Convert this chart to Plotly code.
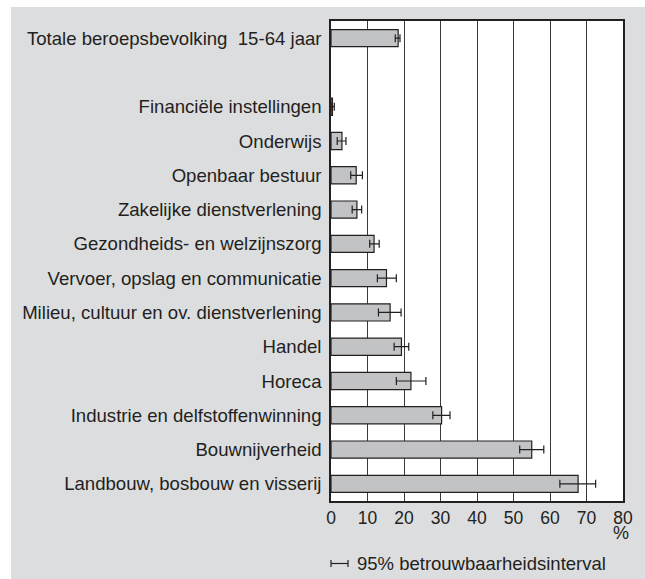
import plotly.graph_objects as go

# Data (top to bottom as in the chart)
categories = [
    "Totale beroepsbevolking\u00a0 15-64 jaar",
    "Financiële instellingen",
    "Onderwijs",
    "Openbaar bestuur",
    "Zakelijke dienstverlening",
    "Gezondheids- en welzijnszorg",
    "Vervoer, opslag en communicatie",
    "Milieu, cultuur en ov. dienstverlening",
    "Handel",
    "Horeca",
    "Industrie en delfstoffenwinning",
    "Bouwnijverheid",
    "Landbouw, bosbouw en visserij",
]
values = [18.4, 0.4, 3.0, 6.9, 7.1, 11.8, 15.2, 16.2, 19.3, 21.9, 30.3, 55.0, 67.7]
ci_low = [17.6, 0.0, 1.7, 5.4, 5.8, 10.6, 12.7, 13.0, 17.3, 17.9, 27.9, 51.7, 62.7]
ci_high = [18.9, 0.9, 4.1, 8.6, 8.4, 13.2, 17.9, 19.2, 21.3, 26.0, 32.6, 58.3, 72.5]
spacer = "\u2007"
x_ticks = [0, 10, 20, 30, 40, 50, 60, 70, 80]
unit_label = "%"
legend_label = "95% betrouwbaarheidsinterval"

# category order bottom -> top, with an empty slot under the total
cat_order = list(reversed(categories[1:])) + [spacer, categories[0]]

err_plus = [h - v for h, v in zip(ci_high, values)]
err_minus = [v - l for v, l in zip(values, ci_low)]

FONT = "Liberation Sans, Arial, Helvetica, sans-serif"
TXT = "#231f20"
GREY = "#dcdddf"

fig = go.Figure()
fig.add_trace(go.Bar(
    x=values, y=categories, orientation="h", width=0.5,
    marker=dict(color="#c2c3c5", line=dict(color=TXT, width=1.2)),
    error_x=dict(type="data", symmetric=False, array=err_plus, arrayminus=err_minus,
                 color=TXT, thickness=1.2, width=4),
    showlegend=False, hoverinfo="x+y",
))

L, R, T, B = 331, 22, 21, 78
W, H = 645, 579
pw, ph = W - L - R, H - T - B

def px(xpix):
    return (xpix - L) / pw

def py(ypix):
    return (H - B - ypix) / ph

shapes = [
    # grey panel on the right of the plot (safety) and white outer margin top/left
    dict(type="rect", xref="paper", yref="paper", x0=px(625), x1=px(700), y0=py(650), y1=py(7),
         fillcolor=GREY, line=dict(width=0), layer="below"),
    dict(type="rect", xref="paper", yref="paper", x0=px(-20), x1=px(700), y0=py(7), y1=py(-20),
         fillcolor="white", line=dict(width=0), layer="below"),
    dict(type="rect", xref="paper", yref="paper", x0=px(-20), x1=px(11), y0=py(650), y1=py(-20),
         fillcolor="white", line=dict(width=0), layer="below"),
    # legend error-bar glyph
    dict(type="line", xref="paper", yref="paper", x0=px(331), x1=px(348), y0=py(563.5), y1=py(563.5),
         line=dict(color=TXT, width=1.2)),
    dict(type="line", xref="paper", yref="paper", x0=px(331), x1=px(331), y0=py(560), y1=py(567),
         line=dict(color=TXT, width=1.2)),
    dict(type="line", xref="paper", yref="paper", x0=px(348), x1=px(348), y0=py(560), y1=py(567),
         line=dict(color=TXT, width=1.2)),
]

annotations = [
    dict(text=unit_label, xref="paper", yref="paper", x=px(631), y=py(533), xanchor="right",
         yanchor="middle", showarrow=False, font=dict(family=FONT, size=18, color=TXT)),
    dict(text=legend_label, xref="paper", yref="paper", x=px(355), y=py(563), xanchor="left",
         yanchor="middle", showarrow=False, font=dict(family=FONT, size=18.5, color=TXT)),
]

fig.update_layout(
    width=W, height=H,
    margin=dict(l=L, r=R, t=T, b=B, pad=0),
    paper_bgcolor=GREY, plot_bgcolor="white",
    font=dict(family=FONT, size=18, color=TXT),
    shapes=shapes, annotations=annotations,
    bargap=0.5,
)
fig.update_xaxes(
    range=[0, 80], tickvals=x_ticks, ticktext=[str(t) for t in x_ticks],
    showgrid=True, gridcolor="#3a3a3a", gridwidth=1,
    showline=True, mirror=True, linecolor=TXT, linewidth=1.5,
    ticks="", tickfont=dict(family=FONT, size=17.5, color=TXT), zeroline=False,
    fixedrange=True,
)
fig.update_yaxes(
    type="category", categoryorder="array", categoryarray=cat_order,
    range=[-0.5, len(cat_order) - 0.5],
    showgrid=False, showline=True, mirror=True, linecolor=TXT, linewidth=1.5,
    ticks="", ticklabelstandoff=4, tickfont=dict(family=FONT, size=18.6, color=TXT),
    fixedrange=True,
)

fig.write_html(
    "out.html",
    config={"displayModeBar": False},
    post_script=(
        "document.documentElement.style.overflow='hidden';"
        "document.body.style.margin='0px';"
        "document.body.style.overflow='hidden';"
    ),
)
